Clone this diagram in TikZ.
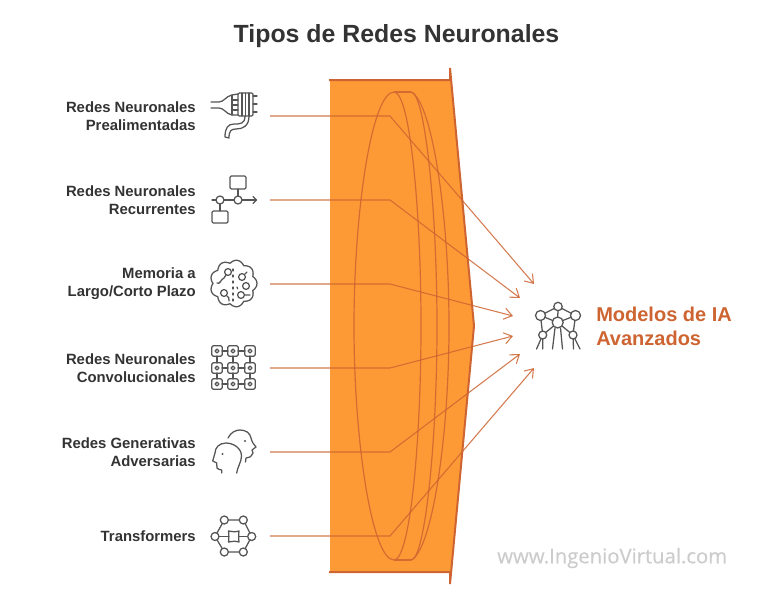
\documentclass[tikz,border=0pt]{standalone}
\usepackage{fontspec}
\setmainfont{Liberation Sans}
\newfontfamily\webfont[FakeBold=0.5]{Open Sans}
\usetikzlibrary{arrows.meta,calc}
\definecolor{funnel}{HTML}{FE9A36}
\definecolor{rust}{HTML}{CD6431}
\definecolor{ink}{HTML}{333333}
\definecolor{glyph}{HTML}{555555}
\tikzset{
  x=0.75pt,y=-0.75pt,
  label/.style={font=\bfseries\fontsize{11.15pt}{13.5pt}\selectfont,text=ink,align=right,anchor=east,inner sep=0pt},
  conn/.style={draw=rust,line width=0.8pt,opacity=.85,-{Straight Barb[length=6pt,width=8.5pt,line width=0.8pt]}},
  lens/.style={draw=rust!85!funnel,line width=0.9pt},
  icon/.style={draw=glyph,line width=0.95pt,line cap=round,line join=round},
  fillw/.style={icon,fill=white}
}
\begin{document}
\begin{tikzpicture}
\useasboundingbox (0,0) rectangle (780,610);

% Title
\node[font=\bfseries\fontsize{18.65pt}{22pt}\selectfont,text=ink,inner sep=0pt] (title) at (396.5,36) {Tipos de Redes Neuronales};

% Funnel body
\fill[funnel] (330,80) -- (450,80) -- (450,68) -- (474,326) -- (450,584) -- (450,572) -- (330,572) -- cycle;
\draw[rust,line width=1.5pt] (329,80) -- (450,80) -- (450,68) -- (474,326) -- (450,584) -- (450,572) -- (329,572);

% Lens outlines
\draw[lens] (394,92) .. controls (372,92) and (354,210) .. (354,326) .. controls (354,442) and (372,560) .. (394,560);
\draw[lens] (394,92) .. controls (410,92) and (421,210) .. (421,326) .. controls (421,442) and (410,560) .. (394,560);
\draw[lens] (394,92) -- (411,92);
\draw[lens] (394,560) -- (411,560);
\draw[lens] (411,92) .. controls (425,92) and (437,210) .. (437,326) .. controls (437,442) and (425,560) .. (411,560);
\draw[lens] (411,92) .. controls (431,100) and (449,210) .. (449,326) .. controls (449,442) and (431,552) .. (411,560);

% Row labels
\node[label] (l1) at (196,116) {Redes Neuronales\\Prealimentadas};
\node[label] (l2) at (196,200) {Redes Neuronales\\Recurrentes};
\node[label] (l3) at (196,284) {Memoria a\\Largo/Corto Plazo};
\node[label] (l4) at (196,368) {Redes Neuronales\\Convolucionales};
\node[label] (l5) at (196,452) {Redes Generativas\\Adversarias};
\node[label] (l6) at (196,536) {Transformers};

% Outcome label
\node[font=\bfseries\fontsize{15pt}{18pt}\selectfont,text=rust,align=left,anchor=west,inner sep=0pt] (out) at (596,326) {Modelos de IA\\Avanzados};

% Connector anchors
\foreach \n/\y in {1/116,2/200,3/284,4/368,5/452,6/536}{
  \coordinate (s\n) at (270,\y);
  \coordinate (k\n) at (390,\y);
}
\coordinate (e1) at (534,284);
\coordinate (e2) at (520,298);
\coordinate (e3) at (513,316);
\coordinate (e4) at (513,336);
\coordinate (e5) at (520,354);
\coordinate (e6) at (534,368);
\foreach \n in {1,...,6}{
  \draw[conn] (s\n) -- (k\n) -- (e\n);
}

% Icon: feed-forward cable block
\draw[icon] (211,102) -- (219,102) .. controls (224,102) and (226,96) .. (232,95) -- (238,94);
\draw[icon] (211,108) -- (219,108) .. controls (224,108) and (226,114) .. (232,115) -- (238,115);
\draw[icon] (232,95) -- (232,115);
\draw[icon] (232,100) -- (238,100) (232,105) -- (238,105) (232,110) -- (238,110);
\draw[icon,rounded corners=1pt] (238,93) rectangle (253,116);
\draw[icon] (242,93) -- (242,116) (245.5,93) -- (245.5,116) (249,93) -- (249,116);
\draw[icon] (253,96) -- (257,96) (253,104) -- (257,104) (253,112) -- (257,112);
\draw[icon] (245,116) .. controls (245,124) and (240,124) .. (234,124) .. controls (228,124) and (225,128) .. (225,137) -- (229,138)
  .. controls (229,131) and (231,129) .. (236,129) .. controls (243,129) and (249,126) .. (249,116);

% Icon: recurrent flow
\draw[icon,rounded corners=1pt] (230,176) rectangle (246,189);
\draw[icon,rounded corners=1pt] (212,211) rectangle (228,223);
\draw[icon] (238,189) -- (238,196) (220,204) -- (220,211) (212,200) -- (216,200) (224,200) -- (234,200) (242,200) -- (256,200);
\draw[icon] (253,196.5) -- (256.5,200) -- (253,203.5);
\draw[icon] (220,200) circle (4);
\draw[icon] (238,200) circle (4);

% Icon: memory cloud
\draw[icon] plot[smooth cycle,samples=72,domain=0:355] ({233.5+(20.5+3*abs(cos(4.5*\x)))*cos(\x)},{283.5+(20.5+3*abs(cos(4.5*\x)))*sin(\x)});
\draw[icon] (228,272) circle (3.4);
\draw[icon] (242,277) circle (3.4);
\draw[icon] (246,286) circle (3.4);
\draw[icon] (241,295) circle (3.4);
\draw[icon] (224,293) circle (3.4);
\draw[icon] (217,283) .. controls (220,285) and (221,279) .. (224,278) -- (226,275);
\draw[icon] (245,274) -- (247,272) (245,295) -- (250,295) (227,296) .. controls (229,296) and (229,299) .. (229,301);
\draw[icon,dash pattern=on 1.5pt off 3pt] (233,269) -- (233,302);
\draw[icon,dash pattern=on 1.5pt off 3pt] (237,287) -- (238,290);

% Icon: convolution grid
\foreach \cx in {217,233,250}{
  \foreach \cy in {351,368,384}{
    \draw[icon,rounded corners=1pt] (\cx-5.2,\cy-5.2) rectangle (\cx+5.2,\cy+5.2);
    \draw[icon] (\cx,\cy) circle (1.9);
  }
  \draw[icon] (\cx,356) -- (\cx,363) (\cx,373) -- (\cx,379);
}
\foreach \cy in {351,368,384}{
  \draw[icon] (222,\cy) -- (228,\cy) (238,\cy) -- (245,\cy);
}

% Icon: two facing heads
\draw[icon] (228,438) .. controls (231,432) and (236,430) .. (240,430) .. controls (246,430) and (250,433) .. (251,438)
  .. controls (252,442) and (254,445) .. (256,447) -- (252,450) -- (253,453) .. controls (251,457) and (249,458) .. (246,458) -- (245.5,462);
\draw[icon] (236.7,473) .. controls (237,468) and (241.5,462) .. (241.5,456) .. controls (241.5,448) and (233,443) .. (226,443)
  .. controls (219,443) and (215,448) .. (215,453) -- (212.7,461) -- (216.7,463) -- (217,468) .. controls (218,470) and (220,469) .. (221.7,470) -- (221.7,473);
\fill[glyph] (222.5,454) circle (1.1);
\fill[glyph] (245,441) circle (1.1);

% Icon: transformer ring
\coordinate (h1) at (224.3,520);
\coordinate (h2) at (243.3,520);
\coordinate (h3) at (251.7,536.5);
\coordinate (h4) at (243.3,552);
\coordinate (h5) at (224.3,552);
\coordinate (h6) at (215,536.5);
\draw[icon] (h1) -- (h2) -- (h3) -- (h4) -- (h5) -- (h6) -- cycle;
\draw[icon] (h6) -- (228.5,536.5) (239,536.5) -- (h3);
\draw[icon] (228.5,531) .. controls (232,532) and (236,532) .. (239,531) .. controls (238.5,534) and (238.5,539) .. (239,542)
  .. controls (236,541) and (232,541) .. (228.5,542) .. controls (229,539) and (229,534) .. (228.5,531) -- cycle;
\foreach \h in {h1,h2,h3,h4,h5,h6}{
  \draw[fillw] (\h) circle (4);
}

% Icon: connected model hub
\coordinate (m1) at (558,306.5);
\coordinate (m2) at (540.5,315.5);
\coordinate (m3) at (575.5,315.5);
\coordinate (m4) at (557.7,322.5);
\coordinate (m5) at (542.7,335);
\coordinate (m6) at (573,335);
\draw[icon] (m1) -- (m2) (m1) -- (m3) (m1) -- (m4) (m2) -- (m4) (m3) -- (m4) (m2) -- (m5) (m3) -- (m6) (m4) -- (m5) (m4) -- (m6);
\draw[icon] (m5) -- (536.5,349) (m5) -- (542.7,349) (555,328) -- (552.5,349) (560.5,328) -- (562.5,349) (m6) -- (573.5,349) (m6) -- (580,349);
\foreach \m/\r in {m1/4.2,m2/5,m3/5,m4/5.5,m5/4,m6/4}{
  \draw[fillw] (\m) circle (\r);
}

% Site address
\node[font=\webfont\fontsize{15.2pt}{18pt}\selectfont,text=black!20,inner sep=0pt,anchor=west] (web) at (497,558) {www.IngenioVirtual.com};
\end{tikzpicture}
\end{document}
